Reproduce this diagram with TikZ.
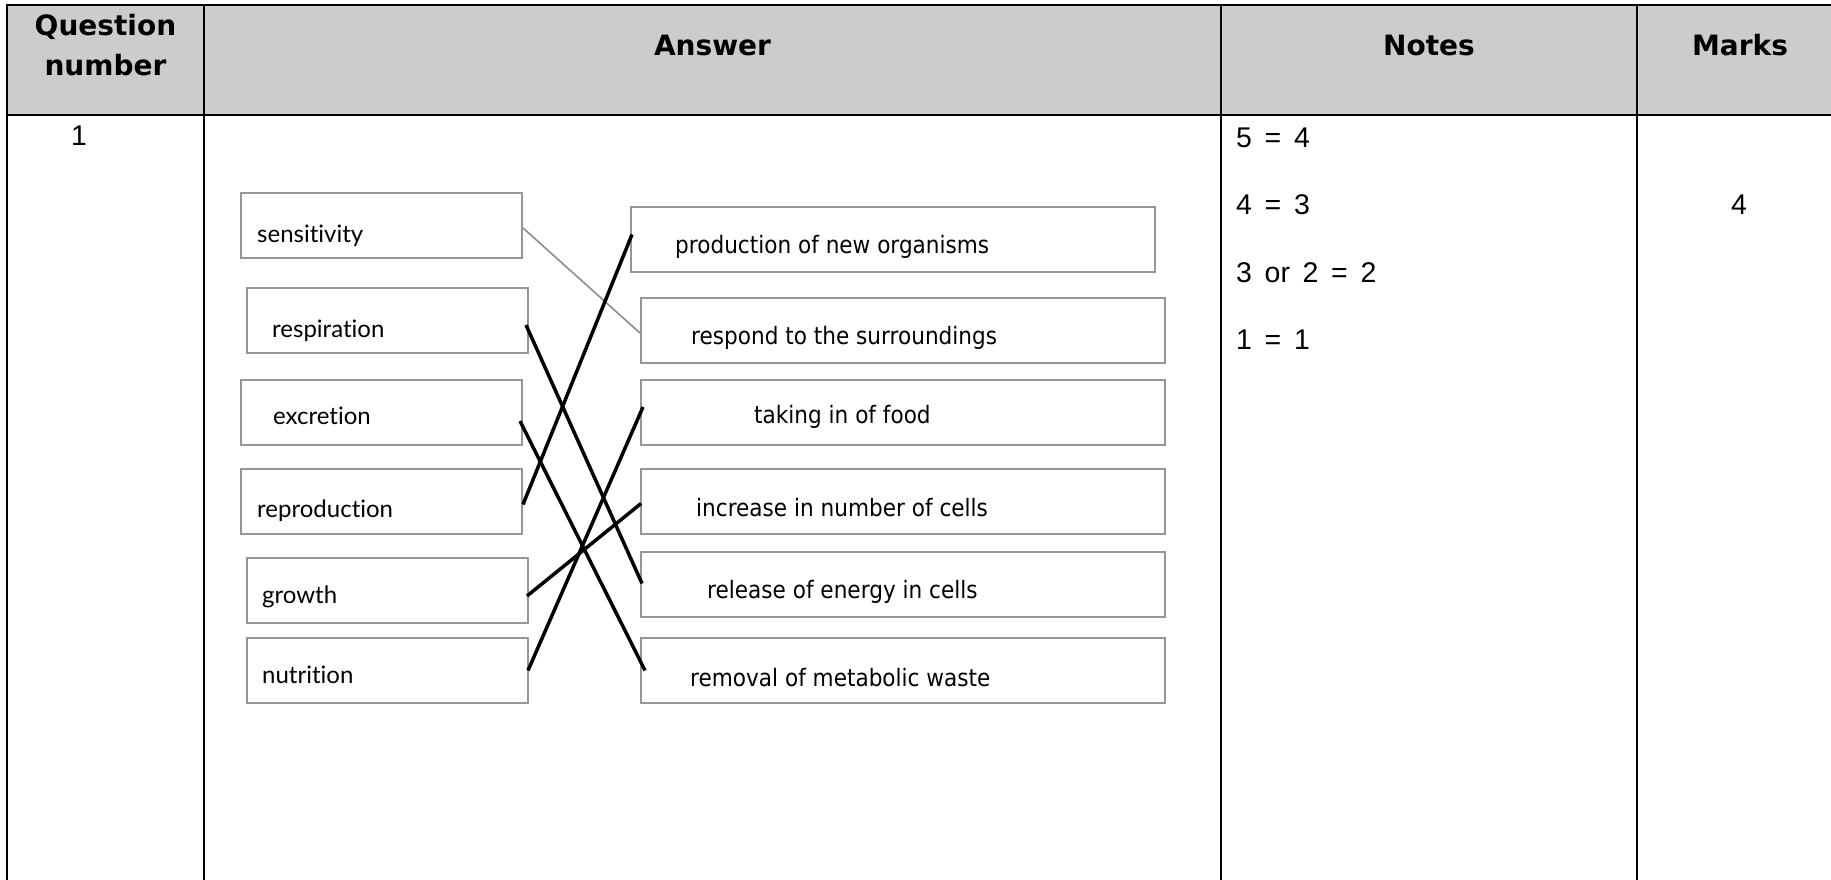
\documentclass[tikz,border=0pt]{standalone}
\usepackage{fontspec}
\newfontfamily\hdrfont{DejaVu Sans}
\newfontfamily\lbfont{Lato}[Ligatures=NoCommon]
\newfontfamily\rbfont{DejaVu Sans}[FakeStretch=0.9]
\newfontfamily\notefont{Liberation Sans}[WordSpace=1.6]
\definecolor{hdrgray}{RGB}{204,204,204}
\definecolor{boxgray}{RGB}{150,150,150}
\definecolor{linegray}{RGB}{140,140,140}
\tikzset{
  tline/.style={line width=2.6pt, black},
  abox/.style={draw=boxgray, line width=2pt, minimum width=281pt, minimum height=65pt, anchor=north west, inner sep=0pt},
  bbox/.style={draw=boxgray, line width=2pt, minimum width=524pt, minimum height=65pt, anchor=north west, inner sep=0pt},
  ltxt/.style={anchor=base west, inner sep=0pt, font=\lbfont\fontsize{24}{28}\selectfont},
  rtxt/.style={anchor=base west, inner sep=0pt, font=\rbfont\fontsize{24}{28}\selectfont},
  hdr/.style={anchor=base, inner sep=0pt, font=\hdrfont\bfseries\fontsize{28}{40}\selectfont},
  notetxt/.style={anchor=base west, inner sep=0pt, font=\notefont\fontsize{28.5}{32}\selectfont},
  link/.style={line width=3.5pt, black},
  glink/.style={line width=1.6pt, linegray}
}
\begin{document}
\begin{tikzpicture}[x=1pt,y=-1pt]
\useasboundingbox (0,0) rectangle (1831,880);
\fill[white] (0,0) rectangle (1831,880);
% table
\fill[hdrgray] (7,5) rectangle (1831,115);
\draw[tline] (1831,5) -- (7,5) -- (7,880);
\draw[tline] (7,115) -- (1831,115);
\draw[tline] (204,5) -- (204,880);
\draw[tline] (1221,5) -- (1221,880);
\draw[tline] (1637,5) -- (1637,880);
% headers
\node[hdr, align=center] (hq) at (105.5,76) {Question\\number};
\node[hdr] (ha) at (712.5,56) {Answer};
\node[hdr] (hn) at (1429,56) {Notes};
\node[hdr] (hm) at (1740,56) {Marks};
% body
\node[notetxt, anchor=base] (qn) at (79,146) {1};
\node[notetxt] (n1) at (1236,147) {5 = 4};
\node[notetxt] (n2) at (1236,214) {4 = 3};
\node[notetxt] (n3) at (1236,282) {3 or 2 = 2};
\node[notetxt] (n4) at (1236,349) {1 = 1};
\node[notetxt, anchor=base] (mk) at (1739,214) {4};
% left boxes
\node[abox] (sens) at (240,192) {};
\node[abox] (resp) at (246,287) {};
\node[abox] (excr) at (240,379) {};
\node[abox] (repr) at (240,468) {};
\node[abox] (grow) at (246,557) {};
\node[abox] (nutr) at (246,637) {};
\node[ltxt] (tsens) at (257,242) {sensitivity};
\node[ltxt] (tresp) at (272,337) {respiration};
\node[ltxt] (texcr) at (273,424) {excretion};
\node[ltxt] (trepr) at (257,517) {reproduction};
\node[ltxt] (tgrow) at (262,603) {growth};
\node[ltxt] (tnutr) at (262,683) {nutrition};
% right boxes
\node[bbox] (prod) at (630,206) {};
\node[bbox] (resd) at (640,297) {};
\node[bbox] (food) at (640,379) {};
\node[bbox] (cell) at (640,468) {};
\node[bbox] (ener) at (640,551) {};
\node[bbox] (wast) at (640,637) {};
\node[rtxt] (tprod) at (675,253) {production of new organisms};
\node[rtxt] (tresd) at (691,344) {respond to the surroundings};
\node[rtxt] (tfood) at (754,423) {taking in of food};
\node[rtxt] (tcell) at (696,516) {increase in number of cells};
\node[rtxt] (tener) at (707,598) {release of energy in cells};
\node[rtxt] (twast) at (690,686) {removal of metabolic waste};
% connectors
\draw[glink] ([yshift=-2.5pt]sens.east) -- ([yshift=-2.5pt]resd.west);
\draw[link] ([xshift=-3pt,yshift=-4.5pt]resp.east) -- ([xshift=2pt,yshift=1pt]ener.west);
\draw[link] ([xshift=-3pt,yshift=-8.5pt]excr.east) -- ([xshift=5pt]wast.west);
\draw[link] ([yshift=-3pt]repr.east) -- ([xshift=2pt,yshift=5pt]prod.west);
\draw[link] ([xshift=-2pt,yshift=-5.5pt]grow.east) -- ([xshift=1pt,yshift=-2pt]cell.west);
\draw[link] ([xshift=-1pt]nutr.east) -- ([xshift=3pt,yshift=5.5pt]food.west);
\end{tikzpicture}
\end{document}
